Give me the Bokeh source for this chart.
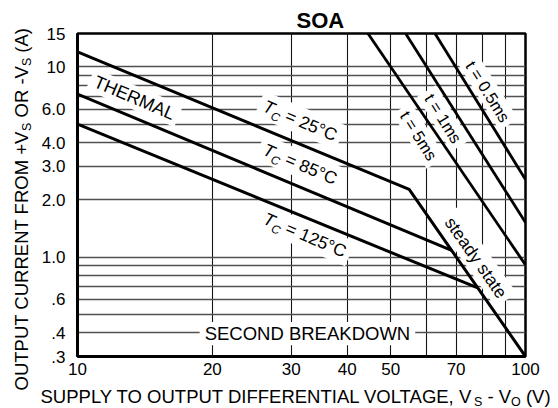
import math
from bokeh.plotting import figure
from bokeh.layouts import row, column
from bokeh.models import FixedTicker, Label, Range1d
from bokeh.embed import file_html
from bokeh.resources import INLINE

# ---------------- data ----------------
x_ticks = [10, 20, 30, 40, 50, 70, 100]
x_tick_labels = ["10", "20", "30", "40", "50", "70", "100"]
y_ticks = [0.3, 0.4, 0.6, 1.0, 2.0, 3.0, 4.0, 6.0, 10, 15]
y_tick_labels = [".3", ".4", ".6", "1.0", "2.0", "3.0", "4.0", "6.0", "10", "15"]
x_grid = [20, 30, 40, 50, 60, 70, 80, 90]
y_grid = [0.4, 0.5, 0.6, 0.7, 0.8, 0.9, 1, 2, 3, 4, 5, 6, 7, 8, 9, 10]

# thermal limits: supply-to-output voltage (V) vs output current (A)
tc25_v = [10, 55, 100]
tc25_i = [12.0, 2.27, 0.30]
tc85_v = [10, 68.4]
tc85_i = [7.2, 1.085]
tc125_v = [10, 78]
tc125_i = [5.0, 0.69]
# pulse limits
t05_v = [62.8, 100]
t05_i = [15, 2.56]
t1_v = [54.0, 100]
t1_i = [15, 1.52]
t5_v = [44.5, 100]
t5_i = [15, 0.91]

FONT = "Liberation Sans"
MID = 0.35  # distance baseline -> text middle, in em

# ---------------- text helpers ----------------
W = {' ': 278, '(': 333, ')': 333, '+': 584, '-': 333, ',': 278, '.': 278,
     '=': 584, '°': 400,
     'A': 667, 'B': 667, 'C': 722, 'D': 722, 'E': 667, 'F': 611, 'G': 778,
     'H': 722, 'I': 278, 'K': 667, 'L': 556, 'M': 833, 'N': 722, 'O': 778,
     'P': 667, 'R': 722, 'S': 667, 'T': 611, 'U': 722, 'V': 667, 'W': 944,
     'Y': 667, 'a': 556, 'd': 556, 'e': 556, 'm': 833, 's': 500, 't': 278,
     'y': 500}


def tw(s, size):
    return sum(W.get(c, 556) for c in s) * size / 1000.0


def rich(fig, x, y, pieces, angle, anchor="center", dx=0.0, dy=0.0, adj=None):
    a = math.radians(angle)
    ca, sa = math.cos(a), math.sin(a)
    total = sum(tw(t, s) for t, s, st, sh in pieces)
    main = max(s for t, s, st, sh in pieces)
    if anchor == "center":
        cap = 0.716 * main / 2.0
        bx = -total / 2.0 * ca + cap * sa
        by = -total / 2.0 * sa - cap * ca
    else:
        bx, by = 0.0, 0.0
    adv = 0.0
    for k, (t, s, st, sh) in enumerate(pieces):
        lead = len(t) - len(t.lstrip(" "))
        a0 = adv + tw(" " * lead, s)
        sh2 = sh - MID * s  # move anchor from baseline up to text middle
        lab = Label(x=x, y=y,
                    x_offset=dx + bx + a0 * ca + sh2 * sa,
                    y_offset=dy + by + a0 * sa - sh2 * ca,
                    text=t.strip(" "), angle=angle, angle_units="deg",
                    text_font=FONT, text_font_size=f"{s}px",
                    text_font_style=st, text_color="black",
                    text_align="left", text_baseline="middle")
        fig.add_layout(lab)
        adv += tw(t, s) + (adj[k] if adj else 0.0)


def blank(w, h):
    f = figure(width=w, height=h, x_range=Range1d(0, w), y_range=Range1d(0, h),
               x_axis_location=None, y_axis_location=None,
               toolbar_location=None, output_backend="svg", title=None,
               min_border=0)
    f.outline_line_color = None
    f.grid.visible = False
    f.background_fill_color = "white"
    f.border_fill_color = "white"
    return f


# ---------------- main plot ----------------
p = figure(width=520, height=384, x_axis_type="log", y_axis_type="log",
           x_range=Range1d(10, 100), y_range=Range1d(0.3, 15),
           output_backend="svg", toolbar_location=None, title="SOA",
           min_border_left=33, min_border_right=33,
           min_border_top=33, min_border_bottom=28)
p.title.text_font = FONT
p.title.text_font_size = "22px"
p.title.text_font_style = "bold"
p.title.text_color = "black"
p.title.align = "left"
p.title.offset = 219
p.title.standoff = 2
p.background_fill_color = "white"
p.border_fill_color = "white"
p.outline_line_color = "black"
p.outline_line_width = 2.5
p.outline_line_alpha = 1.0

p.xaxis.ticker = FixedTicker(ticks=x_ticks)
p.xaxis.major_label_overrides = {v: s for v, s in zip(x_ticks, x_tick_labels)}
p.yaxis.ticker = FixedTicker(ticks=y_ticks)
p.yaxis.major_label_overrides = {v: s for v, s in zip(y_ticks, y_tick_labels)}
for ax in (p.xaxis, p.yaxis):
    ax.major_tick_line_color = None
    ax.minor_tick_line_color = None
    ax.axis_line_color = "black"
    ax.axis_line_width = 3
    ax.major_label_text_font = FONT
    ax.major_label_text_font_size = "17px"
    ax.major_label_text_color = "black"
p.xaxis.major_label_standoff = 0
p.yaxis.major_label_standoff = 6

p.xgrid.ticker = FixedTicker(ticks=x_grid)
p.xgrid.grid_line_color = "#151515"
p.xgrid.grid_line_width = 1.1
p.xgrid.level = "image"
p.ygrid.ticker = FixedTicker(ticks=y_grid)
p.ygrid.grid_line_color = "#505050"
p.ygrid.grid_line_width = 1.4
p.ygrid.level = "image"

# curve labels: centre (data coords), pieces, angle, extra box height
labels = [
    (13.4, 6.9, [("THERMAL", 18, "normal", 0)], -23, 0),
    (31.4, 5.23, [("T", 17.5, "italic", 0), ("C", 12, "italic", 4.5),
                  (" = 25°C", 17.5, "normal", 0)], -23, 4),
    (31.4, 3.09, [("T", 17.5, "italic", 0), ("C", 12, "italic", 4.5),
                  (" = 85°C", 17.5, "normal", 0)], -23, 4),
    (32.2, 1.31, [("T", 17.5, "italic", 0), ("C", 12, "italic", 4.5),
                  (" = 125°C", 17.5, "normal", 0)], -23, 4),
    (32.6, 0.396, [("SECOND BREAKDOWN", 18.5, "normal", 0)], 0, 0),
    (82.5, 7.43, [("t = 0.5ms", 16.5, "normal", 0)], -58, 0),
    (65.6, 5.36, [("t = 1ms", 16.5, "normal", 0)], -58, 0),
    (57.8, 4.36, [("t = 5ms", 16.5, "normal", 0)], -58, 0),
    (77.6, 0.995, [("steady state", 17.5, "normal", 0)], -55, 3),
]

bx_x, bx_y, bx_w, bx_h, bx_a = [], [], [], [], []
for x, y, pieces, ang, extra in labels:
    total = sum(tw(t, s) for t, s, st, sh in pieces)
    main = max(s for t, s, st, sh in pieces)
    bx_x.append(x)
    bx_y.append(y)
    bx_w.append(total + 10)
    bx_h.append(0.716 * main + 10 + extra)
    bx_a.append(ang)

p.rect(x=bx_x, y=bx_y, width=bx_w, height=bx_h, angle=bx_a, angle_units="deg",
       width_units="screen", height_units="screen",
       fill_color="white", line_color=None, level="underlay")

for vx, iy in [(tc25_v, tc25_i), (tc85_v, tc85_i), (tc125_v, tc125_i)]:
    p.line(vx, iy, line_width=3, line_color="black")
for vx, iy in [(t05_v, t05_i), (t1_v, t1_i), (t5_v, t5_i)]:
    p.line(vx, iy, line_width=2.8, line_color="black")

for x, y, pieces, ang, extra in labels:
    rich(p, x, y, pieces, ang)

# ---------------- axis titles (with subscripts) ----------------
ylab_fig = blank(38, 408)
rich(ylab_fig, 27, 18,
     [("OUTPUT CURRENT FROM +V", 18.5, "normal", 0),
      ("S", 12.5, "normal", 4), (" OR -V", 18.5, "normal", 0),
      ("S", 12.5, "normal", 4), (" (A)", 18.5, "normal", 0)],
     90, anchor="start")

xlab_fig = blank(520, 24)
rich(xlab_fig, 2, 6,
     [("SUPPLY TO OUTPUT DIFFERENTIAL VOLTAGE, V", 18.5, "normal", 0),
      ("S", 12.5, "normal", 4), (" - V", 18.5, "normal", 0),
      ("O", 12.5, "normal", 4), (" (V)", 18.5, "normal", 0)],
     0, anchor="start", adj=[-3.5, 0, 0, 0, 0])

# nested containers keep the helper figures from being frame-aligned with p
layout = row(ylab_fig,
             column(column(p, spacing=0), column(xlab_fig, spacing=0), spacing=0),
             spacing=0)

open("out.html", "w").write(file_html(layout, INLINE))
